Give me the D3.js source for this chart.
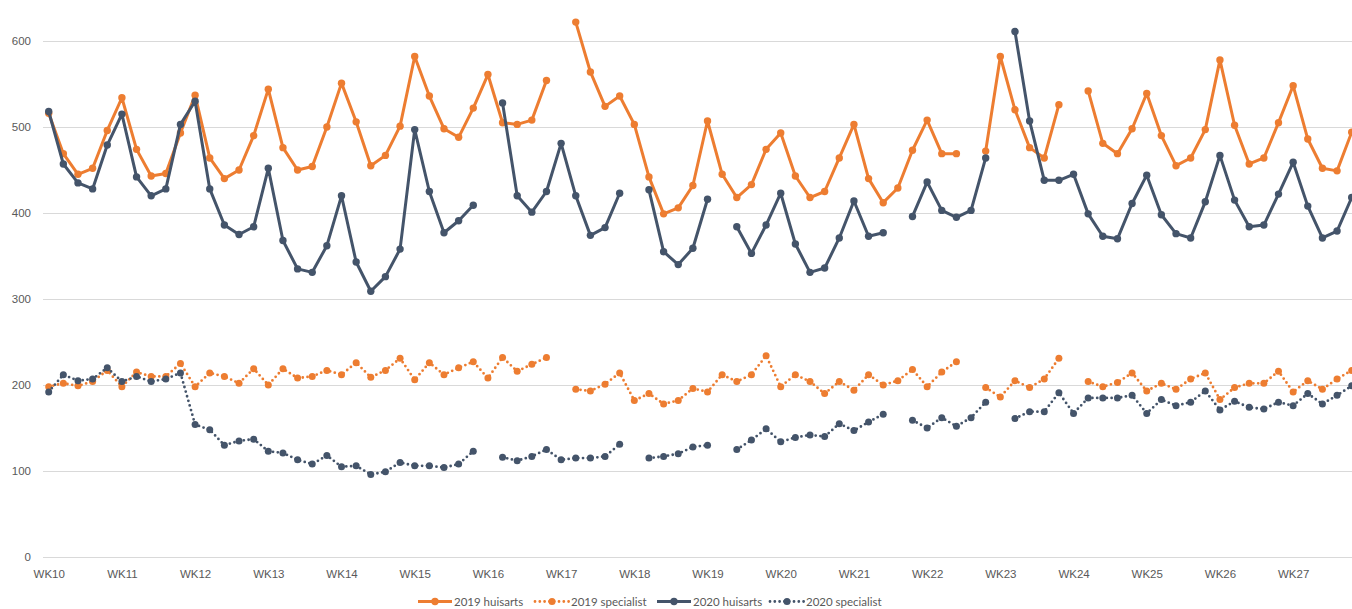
<!DOCTYPE html>
<html>
<head>
<meta charset="utf-8">
<script src="https://cdn.jsdelivr.net/npm/d3@7"></script>
<style>
  html, body { margin: 0; padding: 0; background: #fff; }
  svg { display: block; font-family: Lato, "Open Sans", sans-serif; }
  .axis text { fill: #595959; font-size: 11.5px; }
  .grid line { stroke: #d9d9d9; stroke-width: 1; }
  .legend text { fill: #595959; font-size: 11.5px; }
</style>
</head>
<body>
<div id="chart"></div>
<script>
// week labels shown every 5 working days
const WEEKS = ["WK10", "WK11", "WK12", "WK13", "WK14", "WK15", "WK16", "WK17", "WK18",
  "WK19", "WK20", "WK21", "WK22", "WK23", "WK24", "WK25", "WK26", "WK27"];
const DAYS_PER_WEEK = 5;

// daily values, null = no data (holiday)
const huisarts2019 = [
  516, 469, 445, 452, 496, 534, 474, 443, 446, 493,
  537, 464, 440, 450, 490, 544, 476, 450, 454, 500,
  551, 506, 455, 467, 501, 582, 536, 498, 488, 522,
  561, 505, 503, 508, 554, null, 622, 564, 524, 536,
  503, 442, 399, 406, 432, 507, 445, 418, 433, 474,
  493, 443, 418, 425, 464, 503, 440, 412, 429, 473,
  508, 469, 469, null, 472, 582, 520, 476, 464, 526,
  null, 542, 481, 469, 498, 539, 490, 455, 464, 497,
  578, 502, 457, 464, 505, 548, 486, 452, 449, 494
];

const specialist2019 = [
  198, 202, 199, 204, 217, 198, 215, 210, 210, 225,
  198, 214, 210, 202, 219, 200, 219, 208, 210, 217,
  212, 226, 209, 217, 231, 206, 226, 212, 220, 227,
  208, 232, 216, 224, 232, null, 195, 193, 201, 214,
  182, 190, 178, 182, 196, 192, 212, 204, 212, 234,
  198, 212, 204, 190, 204, 194, 212, 200, 205, 218,
  198, 215, 227, null, 197, 186, 205, 197, 207, 231,
  null, 204, 198, 203, 214, 193, 202, 195, 207, 214,
  183, 197, 202, 202, 216, 192, 205, 195, 207, 217
];

const huisarts2020 = [
  518, 457, 435, 428, 479, 515, 442, 420, 428, 503,
  530, 428, 386, 375, 384, 452, 368, 335, 331, 362,
  420, 343, 309, 326, 358, 497, 425, 377, 391, 409,
  null, 528, 420, 401, 425, 481, 420, 374, 383, 423,
  null, 427, 355, 340, 359, 416, null, 384, 353, 386,
  423, 364, 331, 336, 371, 414, 373, 377, null, 396,
  436, 403, 395, 403, 464, null, 611, 507, 438, 438,
  445, 399, 373, 370, 411, 444, 398, 376, 371, 413,
  467, 415, 384, 386, 422, 459, 408, 371, 379, 418
];

const specialist2020 = [
  192, 212, 205, 207, 220, 204, 210, 204, 207, 214,
  154, 148, 130, 135, 137, 123, 121, 113, 108, 118,
  105, 106, 96, 99, 110, 106, 106, 104, 108, 123,
  null, 116, 112, 117, 125, 113, 115, 115, 117, 131,
  null, 115, 117, 120, 128, 130, null, 125, 136, 149,
  134, 139, 142, 140, 155, 147, 157, 166, null, 159,
  150, 162, 152, 162, 180, null, 161, 169, 169, 191,
  167, 185, 185, 185, 188, 167, 183, 176, 180, 193,
  171, 181, 174, 172, 180, 176, 190, 178, 188, 199
];

const SERIES = [
  { name: "2019 huisarts", values: huisarts2019, color: "#ED7D31", dotted: false },
  { name: "2019 specialist", values: specialist2019, color: "#ED7D31", dotted: true },
  { name: "2020 huisarts", values: huisarts2020, color: "#44546A", dotted: false },
  { name: "2020 specialist", values: specialist2020, color: "#44546A", dotted: true }
];

const Y_TICKS = [0, 100, 200, 300, 400, 500, 600];

const width = 1352;
const height = 609;
const plot = { left: 43, right: 1352, top: 41, bottom: 557 };

const svg = d3.select("#chart")
  .append("svg")
  .attr("width", width)
  .attr("height", height);

const n = huisarts2019.length;
const x = d3.scalePoint()
  .domain(d3.range(n))
  .range([48.7, 1351.7]);

const y = d3.scaleLinear()
  .domain([0, 600])
  .range([plot.bottom, plot.top]);

// gridlines + y labels
const yAxis = svg.append("g")
  .attr("class", "axis grid")
  .attr("transform", `translate(${plot.left},0)`)
  .call(d3.axisLeft(y).tickValues(Y_TICKS).tickSize(-(plot.right - plot.left)).tickPadding(12));
yAxis.select(".domain").remove();

// x labels
const xAxis = svg.append("g")
  .attr("class", "axis")
  .attr("transform", `translate(0,${plot.bottom})`)
  .call(
    d3.axisBottom(x)
      .tickValues(d3.range(0, n, DAYS_PER_WEEK).filter((i) => i / DAYS_PER_WEEK < WEEKS.length))
      .tickFormat((i) => WEEKS[i / DAYS_PER_WEEK])
      .tickSize(0)
      .tickPadding(13)
  );
xAxis.select(".domain").remove();

const line = d3.line()
  .defined((d) => d != null)
  .x((d, i) => x(i))
  .y((d) => y(d));

SERIES.forEach((s) => {
  const g = svg.append("g");
  g.append("path")
    .datum(s.values)
    .attr("fill", "none")
    .attr("stroke", s.color)
    .attr("stroke-width", s.dotted ? 2.8 : 3)
    .attr("stroke-linecap", s.dotted ? "round" : "butt")
    .attr("stroke-linejoin", "round")
    .attr("stroke-dasharray", s.dotted ? "0 4.8" : null)
    .attr("d", line);

  g.selectAll("circle")
    .data(s.values.map((v, i) => ({ v, i })).filter((d) => d.v != null))
    .join("circle")
    .attr("cx", (d) => x(d.i))
    .attr("cy", (d) => y(d.v))
    .attr("r", s.dotted ? 3.5 : 3.7)
    .attr("fill", s.color);
});

// legend
const LEGEND_X = [418, 535, 657, 770];
const legendY = 601.5;
const legend = svg.append("g").attr("class", "legend");
SERIES.forEach((s, k) => {
  const item = legend.append("g").attr("transform", `translate(${LEGEND_X[k]},0)`);
  item.append("line")
    .attr("x1", 0).attr("x2", 34)
    .attr("y1", legendY).attr("y2", legendY)
    .attr("stroke", s.color)
    .attr("stroke-width", s.dotted ? 2.8 : 3)
    .attr("stroke-linecap", s.dotted ? "round" : "butt")
    .attr("stroke-dasharray", s.dotted ? "0 4.8" : null);
  item.append("circle")
    .attr("cx", 17).attr("cy", legendY)
    .attr("r", s.dotted ? 3.5 : 3.7)
    .attr("fill", s.color);
  item.append("text")
    .attr("x", 36)
    .attr("y", legendY)
    .attr("dy", "0.35em")
    .text(s.name);
});
</script>
</body>
</html>
